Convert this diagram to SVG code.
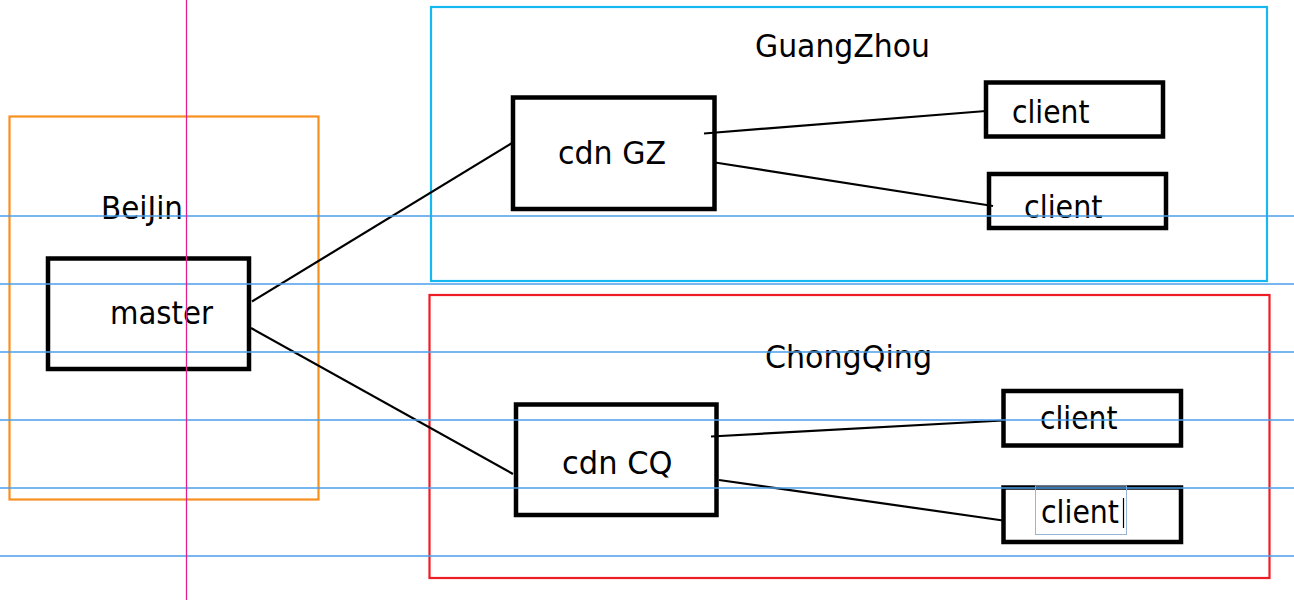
<svg xmlns="http://www.w3.org/2000/svg" width="1294" height="600" viewBox="0 0 1294 600">
<style>
  .node { fill: none; stroke: #000; stroke-width: 4.5; }
  .lbl { font-family: "DejaVu Sans", Verdana, sans-serif; font-size: 32px; fill: #000; }
  .conn { stroke: #000; stroke-width: 2.2; fill: none; }
  .guide { stroke: #4a9ee8; stroke-width: 1.4; }
</style>
<rect width="1294" height="600" fill="#fff"/>
<g id="region-beijin">
  <rect x="9.5" y="116.5" width="309" height="383" fill="none" stroke="#f7901e" stroke-width="2.2"/>
  <text class="lbl" x="101" y="219" textLength="82" lengthAdjust="spacingAndGlyphs">BeiJin</text>
</g>
<g id="region-guangzhou">
  <rect x="431" y="7" width="836" height="274" fill="none" stroke="#15b8f0" stroke-width="2.2"/>
  <text class="lbl" x="755" y="57" textLength="175" lengthAdjust="spacingAndGlyphs">GuangZhou</text>
</g>
<g id="region-chongqing">
  <rect x="429.5" y="295" width="840" height="283" fill="none" stroke="#ee1c24" stroke-width="2.2"/>
  <text class="lbl" x="765" y="368" textLength="167" lengthAdjust="spacingAndGlyphs">ChongQing</text>
</g>
<g id="connectors">
  <line class="conn" x1="252" y1="301.5" x2="512" y2="143"/>
  <line class="conn" x1="251" y1="328" x2="513" y2="474"/>
  <line class="conn" x1="704" y1="133.5" x2="986" y2="111"/>
  <line class="conn" x1="715" y1="162.5" x2="993" y2="206"/>
  <line class="conn" x1="711" y1="436.5" x2="1003" y2="420.5"/>
  <line class="conn" x1="719" y1="480" x2="1003" y2="520.5"/>
</g>
<g id="master">
  <rect class="node" x="48" y="258.5" width="201" height="110.5"/>
  <text class="lbl" x="110" y="324" textLength="103" lengthAdjust="spacingAndGlyphs">master</text>
</g>
<g id="cdn-gz">
  <rect class="node" x="513" y="97.5" width="201.5" height="111.5"/>
  <text class="lbl" x="558" y="164" textLength="108" lengthAdjust="spacingAndGlyphs">cdn GZ</text>
</g>
<g id="cdn-cq">
  <rect class="node" x="516" y="404.5" width="200.5" height="110.5"/>
  <text class="lbl" x="562" y="474" textLength="110.5" lengthAdjust="spacingAndGlyphs">cdn CQ</text>
</g>
<g id="client-gz-1">
  <rect class="node" x="986" y="82.5" width="177" height="54"/>
  <text class="lbl" x="1012" y="123" textLength="77.5" lengthAdjust="spacingAndGlyphs">client</text>
</g>
<g id="client-gz-2">
  <rect class="node" x="989" y="174" width="177" height="54"/>
  <text class="lbl" x="1024" y="218" textLength="78.5" lengthAdjust="spacingAndGlyphs">client</text>
</g>
<g id="client-cq-1">
  <rect class="node" x="1003.5" y="391" width="177.5" height="54.5"/>
  <text class="lbl" x="1040" y="429" textLength="77.5" lengthAdjust="spacingAndGlyphs">client</text>
</g>
<g id="client-cq-2">
  <rect class="node" x="1003.5" y="487.5" width="177.5" height="54.5"/>
  <rect x="1035.5" y="486" width="91" height="48.5" fill="none" stroke="#9ab4d8" stroke-width="1"/>
  <text class="lbl" x="1041" y="523" textLength="78" lengthAdjust="spacingAndGlyphs">client</text>
  <line x1="1123.5" y1="498" x2="1123.5" y2="528" stroke="#000" stroke-width="1.2"/>
</g>
<g id="guides">
  <line class="guide" x1="0" y1="216" x2="1294" y2="216"/>
  <line class="guide" x1="0" y1="284" x2="1294" y2="284"/>
  <line class="guide" x1="0" y1="352" x2="1294" y2="352"/>
  <line class="guide" x1="0" y1="420" x2="1294" y2="420"/>
  <line class="guide" x1="0" y1="488" x2="1294" y2="488"/>
  <line class="guide" x1="0" y1="556" x2="1294" y2="556"/>
  <line x1="186.5" y1="0" x2="186.5" y2="600" stroke="#e0208c" stroke-width="1.3"/>
</g>
</svg>
